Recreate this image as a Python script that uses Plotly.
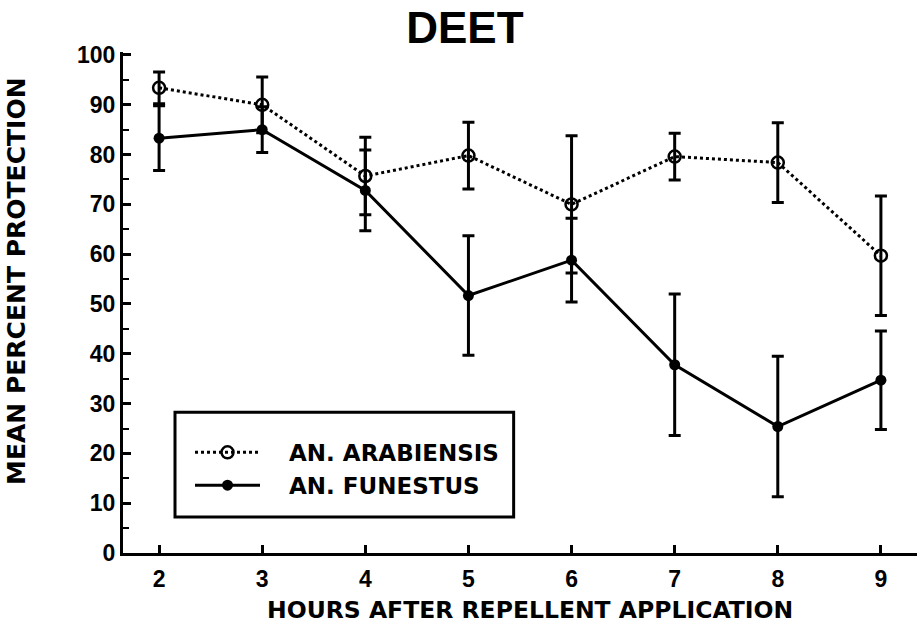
import plotly.graph_objects as go

hours = [2, 3, 4, 5, 6, 7, 8, 9]
arabiensis = [93.4, 90.0, 75.7, 79.8, 70.0, 79.6, 78.4, 59.7]
arabiensis_err = [3.2, 5.6, 7.8, 6.7, 13.8, 4.7, 8.0, 12.0]
funestus = [83.3, 85.0, 72.8, 51.7, 58.8, 37.8, 25.4, 34.7]
funestus_err = [6.5, 4.6, 8.1, 12.0, 8.4, 14.2, 14.1, 9.9]
series_names = ["AN. ARABIENSIS", "AN. FUNESTUS"]
y_ticks = list(range(0, 101, 10))

FONT = "Liberation Sans"
WIDE = "DejaVu Sans"
PAD = "\u00a0\u00a0\u00a0"

fig = go.Figure()
fig.add_trace(go.Scatter(
    x=hours, y=arabiensis, name=f"<b>{PAD}{series_names[0]}</b>", mode="lines+markers",
    line=dict(color="black", width=3, dash="dot"),
    marker=dict(symbol="circle-open", size=12, color="black", line=dict(width=2.5)),
    error_y=dict(type="data", array=arabiensis_err, visible=True, color="black", thickness=3, width=6),
))
fig.add_trace(go.Scatter(
    x=hours, y=funestus, name=f"<b>{PAD}{series_names[1]}</b>", mode="lines+markers",
    line=dict(color="black", width=3),
    marker=dict(symbol="circle", size=11, color="black"),
    error_y=dict(type="data", array=funestus_err, visible=True, color="black", thickness=3, width=6),
))

fig.add_shape(type="rect", xref="paper", yref="paper",
              x0=0.0655, x1=0.492, y0=0.072, y1=0.281,
              line=dict(color="black", width=3), fillcolor="white", layer="below")

fig.add_annotation(text="<b>MEAN PERCENT PROTECTION</b>", xref="paper", yref="paper",
                   x=-0.1335, y=0.543, xanchor="center", yanchor="middle", textangle=-90,
                   showarrow=False, font=dict(size=25, family=WIDE, color="black"))
fig.add_annotation(text="<b>HOURS AFTER REPELLENT APPLICATION</b>", xref="paper", yref="paper",
                   x=0.5126, y=-0.1138, xanchor="center", yanchor="middle",
                   showarrow=False, font=dict(size=23.5, family=WIDE, color="black"))

fig.update_layout(
    width=917, height=633,
    margin=dict(l=123, r=0, t=52, b=80),
    paper_bgcolor="white", plot_bgcolor="white",
    font=dict(family=FONT, color="black"),
    title=dict(text="<b>DEET</b>", x=0.507, xanchor="center", y=0.957, yanchor="middle",
               xref="container", yref="container", font=dict(size=44, family=FONT)),
    showlegend=True,
    legend=dict(x=0.0844, y=0.168, xanchor="left", yanchor="middle", bgcolor="rgba(0,0,0,0)",
                borderwidth=0, font=dict(size=23, family=WIDE), itemwidth=65,
                tracegroupgap=0),
    xaxis=dict(range=[1.65, 9.35], tickvals=hours, ticktext=[f"<b>{h}</b>" for h in hours],
               ticks="inside", ticklen=8, tickwidth=2.5, tickcolor="black", ticklabelstandoff=3,
               showline=True, linecolor="black", linewidth=3, showgrid=False, zeroline=False,
               tickfont=dict(size=23, family=FONT), automargin=False),
    yaxis=dict(range=[0, 100.6], tickvals=y_ticks,
               ticktext=[f"<b>{v}</b>" for v in y_ticks],
               ticks="inside", ticklen=8, tickwidth=2.5, tickcolor="black",
               minor=dict(tickvals=list(range(5, 100, 10)), ticks="inside", ticklen=6, tickwidth=2, tickcolor="black"),
               showline=True, linecolor="black", linewidth=3, showgrid=False, zeroline=False,
               tickfont=dict(size=23, family=FONT), automargin=False),
)

fig.write_html("out.html", config={"displayModeBar": False},
               post_script="document.body.style.margin='0';")
